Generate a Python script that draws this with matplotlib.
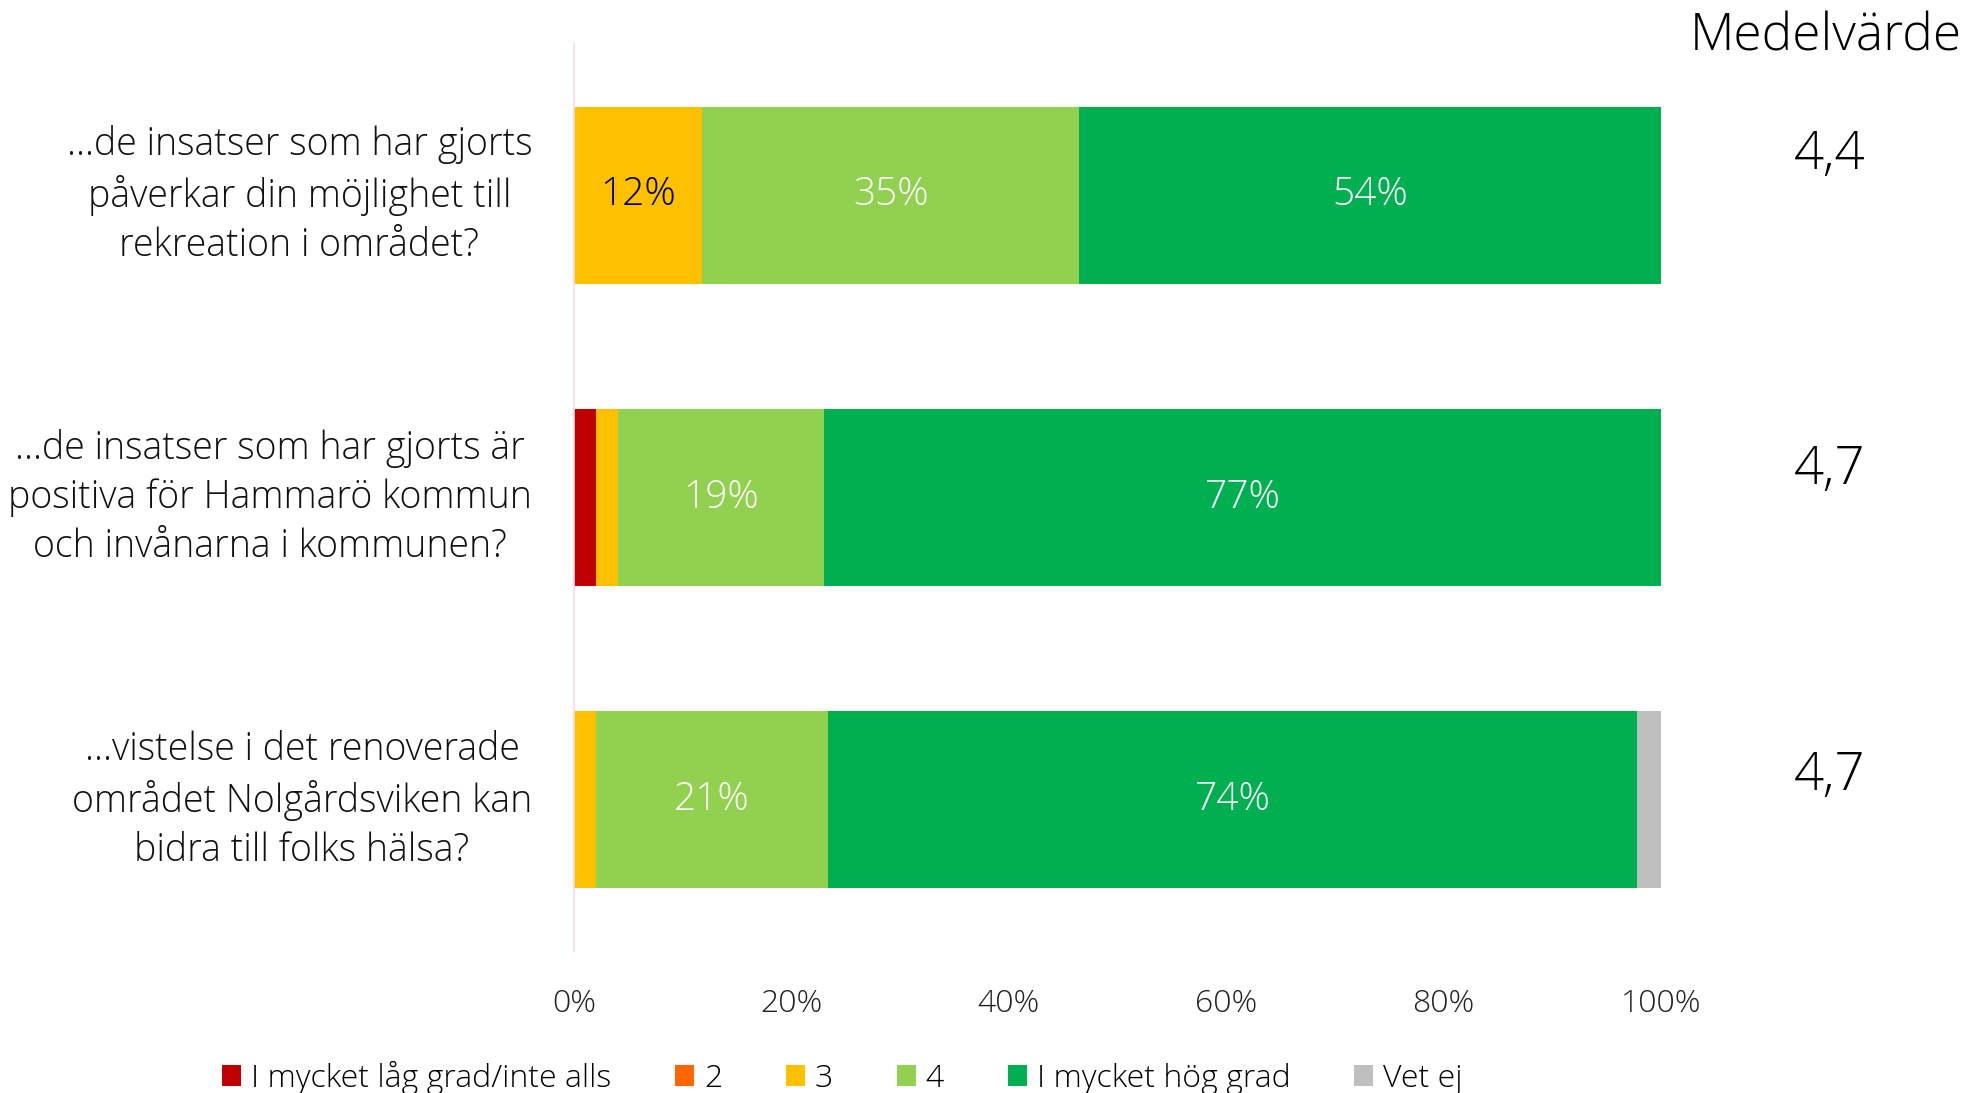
import matplotlib
matplotlib.use("Agg")
import matplotlib.pyplot as plt
import numpy as np

plt.rcParams['font.family'] = ['Open Sans', 'DejaVu Sans']
plt.rcParams['font.weight'] = 'light'

categories = [
    "...de insatser som har gjorts\npåverkar din möjlighet till\nrekreation i området?",
    "...de insatser som har gjorts är\npositiva för Hammarö kommun\noch invånarna i kommunen?",
    "...vistelse i det renoverade\nområdet Nolgårdsviken kan\nbidra till folks hälsa?",
]
series_names = ["I mycket låg grad/inte alls", "2", "3", "4", "I mycket hög grad", "Vet ej"]
series_colors = ["#C00000", "#FF6600", "#FFC000", "#92D050", "#00B050", "#BFBFBF"]
# values in percent, per series, per category
v_low = [0.0, 2.0, 0.0]
v_2 = [0.0, 0.0, 0.0]
v_3 = [11.8, 2.0, 2.0]
v_4 = [34.7, 19.0, 21.4]
v_high = [53.5, 77.0, 74.4]
v_dk = [0.0, 0.0, 2.2]
means = ["4,4", "4,7", "4,7"]
xticks = [0, 20, 40, 60, 80, 100]

series = [v_low, v_2, v_3, v_4, v_high, v_dk]
label_color = ["white", "white", "black", "white", "white", "black"]

fig = plt.figure(figsize=(19.68, 10.93), dpi=100)
ax = fig.add_axes([0.2917, 0.13, 0.8440 - 0.2917, 0.9597 - 0.13])

y = np.arange(len(categories))
left = np.zeros(len(categories))
for name, vals, col, lc in zip(series_names, series, series_colors, label_color):
    vals = np.array(vals)
    ax.barh(y, vals, left=left, height=0.585, color=col, label=name, edgecolor='none')
    for yi, (l, v) in enumerate(zip(left, vals)):
        if v >= 5:
            ax.text(l + v / 2, yi, f"{round(v):.0f}%", ha='center', va='center',
                    color=lc, fontsize=28, fontweight='light')
    left = left + vals

ax.set_ylim(2.5, -0.5)
ax.set_xlim(0, 100)
ax.set_xticks(xticks)
ax.set_xticklabels([f"{t}%" for t in xticks], fontsize=23, fontweight='light', color='#222222')
ax.tick_params(axis='x', length=0, pad=27)
ax.set_yticks(y)
ax.set_yticklabels([])
ax.tick_params(axis='y', length=0)
for s in ['top', 'right', 'bottom']:
    ax.spines[s].set_visible(False)
ax.spines['left'].set_color('#F9D9E3')
ax.spines['left'].set_linewidth(1.2)

for yi, cat in enumerate(categories):
    ax.text(-0.0385, yi, cat, transform=ax.get_yaxis_transform(), ha='right', va='center',
            multialignment='center', fontsize=27, fontweight='light', linespacing=1.35,
            color='#111111')

fig.text(0.928, 0.966, "Medelvärde", ha='center', va='center', fontsize=37, fontweight='light')
mean_y = [0.858, 0.570, 0.290]
for m, my in zip(means, mean_y):
    fig.text(0.9295, my, m, ha='center', va='center', fontsize=38, fontweight='light')

fig.legend(loc='center', bbox_to_anchor=(0.428, 0.014), ncol=6, frameon=False,
           handlelength=0.6, handleheight=0.6, columnspacing=2.0, handletextpad=0.3,
           prop={'size': 23, 'weight': 'light'})

fig.savefig("out.png", dpi=100)
